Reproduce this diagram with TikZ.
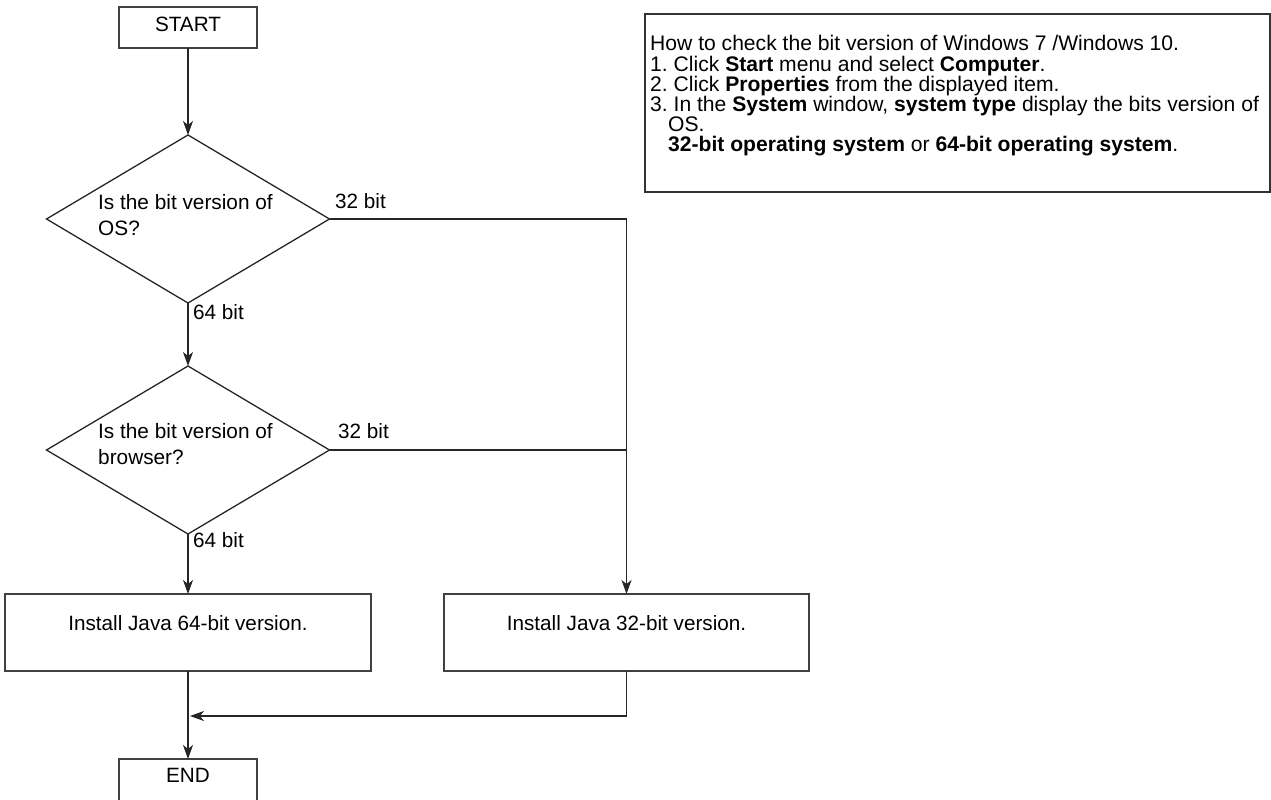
\documentclass[tikz,border=0pt]{standalone}
\usepackage{fontspec}
\setmainfont{Liberation Sans}
\usetikzlibrary{shapes.geometric,arrows.meta}
\frenchspacing
\begin{document}
\begin{tikzpicture}[x=1pt,y=-1pt,
  txt/.style={font=\fontsize{20.7}{24}\selectfont, text=black},
  line/.style={draw=black!85, line width=1.3pt},
  arr/.style={line, -{Stealth[length=14pt,width=10pt,inset=4pt]}},
  term/.style={txt, draw=black!75, line width=1.5pt, minimum width=138pt, inner xsep=0pt, text height=15pt, outer sep=0pt},
  procbox/.style={txt, draw=black!75, line width=1.5pt, inner xsep=0pt, text height=15pt, text depth=20pt, inner ysep=21pt, outer sep=0pt},
  decision/.style={diamond, draw=black!85, line width=1.3pt, minimum width=283pt, minimum height=168pt, inner sep=0pt, outer sep=0pt},
  qtext/.style={txt, font=\fontsize{20.8}{26}\selectfont, anchor=west, align=left, inner sep=0pt},
  lbl/.style={txt, anchor=west, inner sep=0pt},
  infotext/.style={font=\fontsize{21.1}{24}\selectfont, text=black, anchor=base west, inner sep=0pt}
]
\useasboundingbox (0,0) rectangle (1271,800);
\clip (0,0) rectangle (1271,800);

% terminals
\node[term, text depth=7pt, inner ysep=9.5pt, anchor=base] (start) at (188,31.5) {START};
\node[term, text depth=30pt, inner ysep=8.5pt, anchor=base] (end) at (188,782.5) {END};

% decisions
\node[decision] (d1) at (188,219) {};
\node[qtext] (q1) at (98,215) {Is the bit version of\\OS?};
\node[decision] (d2) at (188,450) {};
\node[qtext] (q2) at (98,444) {Is the bit version of\\browser?};

% process boxes
\node[procbox, minimum width=366pt, anchor=base] (b64) at (188,630) {Install Java 64-bit version.};
\node[procbox, minimum width=365pt, anchor=base] (b32) at (626.5,630) {Install Java 32-bit version.};

% labels
\node[lbl] (l32a) at (335,201) {32 bit};
\node[lbl] (l64a) at (193,312) {64 bit};
\node[lbl] (l32b) at (338,431) {32 bit};
\node[lbl] (l64b) at (193,540) {64 bit};

% connectors
\coordinate (m) at (190,716);
\draw[arr] (start) -- (d1);
\draw[arr] (d1.south) -- (d2.north);
\draw[arr] (d1.east) -| (b32.north);
\draw[line] (d2.east) -- (d2.east -| b32.north);
\draw[arr] (d2.south) -- (d2.south |- b64.north);
\draw[arr] (b64.south) -- (end.north);
\draw[arr] (b32.south) |- (m);

% info box
\node[draw=black!80, line width=2.5pt, minimum width=625pt, minimum height=178pt, anchor=north west, inner sep=0pt, outer sep=0pt] (info) at (645,14) {};
\node[infotext] (i1) at (650,51) {How to check the bit version of Windows 7 /Windows 10.};
\node[infotext] (i2) at (650,71) {1. Click \textbf{Start} menu and select \textbf{Computer}.};
\node[infotext] (i3) at (650,91) {2. Click \textbf{Properties} from the displayed item.};
\node[infotext] (i4) at (650,111) {3. In the \textbf{System} window, \textbf{system type} display the bits version of};
\node[infotext] (i5) at (668,131) {OS.};
\node[infotext] (i6) at (668,151) {\textbf{32-bit operating system} or \textbf{64-bit operating system}.};
\end{tikzpicture}
\end{document}
